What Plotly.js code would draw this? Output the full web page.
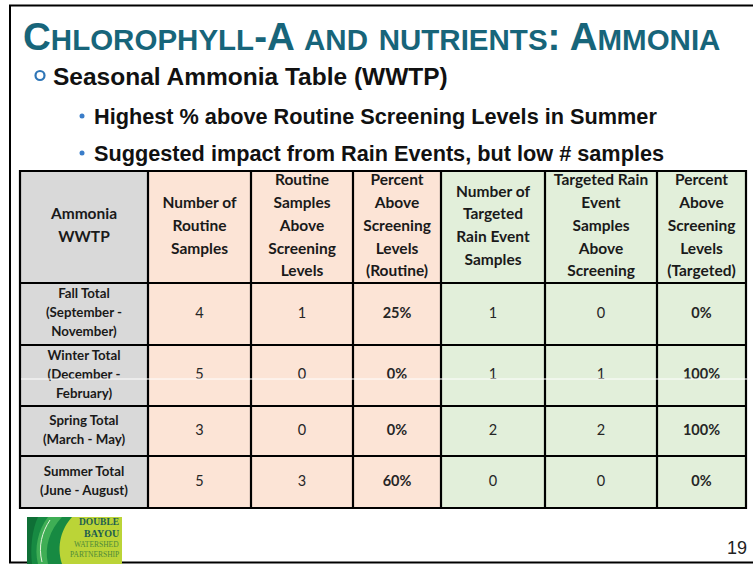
<!DOCTYPE html>
<html><head><meta charset="utf-8">
<script src="https://cdn.plot.ly/plotly-3.0.1.min.js"></script>
<style>html,body{margin:0;padding:0;background:#fff;}#chart{width:753px;height:565px;}</style>
</head><body><div id="chart"></div>
<script>
// ---------------- data ----------------
const headerLabels = ['Ammonia<br>WWTP', 'Number of<br>Routine<br>Samples', 'Routine<br>Samples<br>Above<br>Screening<br>Levels', 'Percent<br>Above<br>Screening<br>Levels<br>(Routine)', 'Number of<br>Targeted<br>Rain Event<br>Samples', 'Targeted Rain<br>Event<br>Samples<br>Above<br>Screening', 'Percent<br>Above<br>Screening<br>Levels<br>(Targeted)'];
const rowLabels = ['Fall Total<br>(September -<br>November)', 'Winter Total<br>(December -<br>February)', 'Spring Total<br>(March - May)', 'Summer Total<br>(June - August)'];
const routineSamples = [4, 5, 3, 5];
const routineAbove = [1, 0, 0, 3];
const routinePercent = [25, 0, 0, 60];
const targetedSamples = [1, 1, 2, 0];
const targetedAbove = [0, 1, 2, 0];
const targetedPercent = [0, 100, 100, 0];

const titleText = 'Chlorophyll-A and nutrients: Ammonia';
const subTitle = 'Seasonal Ammonia Table (WWTP)';
const bulletTexts = ['Highest % above Routine Screening Levels in Summer', 'Suggested impact from Rain Events, but low # samples'];
const pageNumber = '19';
const logoLines = ['DOUBLE', 'BAYOU', 'WATERSHED', 'PARTNERSHIP'];

// ---------------- layout geometry ----------------
const W = 753, H = 565;
const colEdges = [20, 148, 251, 353, 441, 545, 657, 746];
const rowEdges = [171, 283, 345, 406, 456, 508];
const colFills = ['#D9D9D9', '#FCE4D6', '#FCE4D6', '#FCE4D6', '#E2EFDA', '#E2EFDA', '#E2EFDA'];
const headerGap = 22.8, labelGap = 19;
const cellFont = 'Lato, Carlito, Calibri, sans-serif';
const slideFont = '"Liberation Sans", Arial, sans-serif';

const columns = [
  {vals: routineSamples, fmt: v => String(v), bold: false},
  {vals: routineAbove, fmt: v => String(v), bold: false},
  {vals: routinePercent, fmt: v => v + '%', bold: true},
  {vals: targetedSamples, fmt: v => String(v), bold: false},
  {vals: targetedAbove, fmt: v => String(v), bold: false},
  {vals: targetedPercent, fmt: v => v + '%', bold: true}
];

const cx = i => (colEdges[i] + colEdges[i + 1]) / 2;
const cy = r => (rowEdges[r] + rowEdges[r + 1]) / 2;

// ---------------- shapes ----------------
const shapes = [];
shapes.push({type: 'rect', xref: 'x', yref: 'y', x0: 10, x1: 780, y0: 5.5, y1: 562.5, line: {color: '#000', width: 2}, fillcolor: 'rgba(0,0,0,0)'});
for (let c = 0; c < colFills.length; c++) {
  for (let r = 0; r < rowEdges.length - 1; r++) {
    shapes.push({type: 'rect', xref: 'x', yref: 'y', x0: colEdges[c], x1: colEdges[c + 1], y0: rowEdges[r], y1: rowEdges[r + 1], fillcolor: colFills[c], line: {width: 0}, layer: 'below'});
  }
}
const tableTop = rowEdges[0], tableBot = rowEdges[rowEdges.length - 1];
colEdges.forEach(e => shapes.push({type: 'line', xref: 'x', yref: 'y', x0: e, x1: e, y0: tableTop - 1, y1: tableBot + 1, line: {color: '#000', width: 2.2}}));
rowEdges.forEach(e => shapes.push({type: 'line', xref: 'x', yref: 'y', x0: colEdges[0] - 1, x1: colEdges[colEdges.length - 1] + 1, y0: e, y1: e, line: {color: '#000', width: 2}}));
shapes.push({type: 'line', xref: 'x', yref: 'y', x0: colEdges[0] + 1, x1: colEdges[colEdges.length - 1] + 1, y0: 379, y1: 379, line: {color: '#fff', width: 1}});
shapes.push({type: 'circle', xref: 'x', yref: 'y', x0: 35.5, x1: 44.5, y0: 71, y1: 80, line: {color: '#2E75B6', width: 2.2}, fillcolor: 'rgba(0,0,0,0)'});
[116, 153].forEach(y => shapes.push({type: 'circle', xref: 'x', yref: 'y', x0: 79.5, x1: 84.5, y0: y - 2.5, y1: y + 2.5, line: {width: 0}, fillcolor: '#3A7DC9'}));
// logo
shapes.push({type: 'rect', xref: 'x', yref: 'y', x0: 27, x1: 122, y0: 517, y1: 564, fillcolor: '#BBD437', line: {width: 0}});
shapes.push({type: 'path', xref: 'x', yref: 'y', path: 'M27,517 L72,517 C62,528 56,545 62,564 L27,564 Z', fillcolor: '#178A42', line: {width: 0}});
shapes.push({type: 'path', xref: 'x', yref: 'y', path: 'M48,517 L62,517 C50,530 44,546 48,564 L38,564 C34,548 38,530 48,517 Z', fillcolor: '#3FAE55', line: {width: 0}});
shapes.push({type: 'path', xref: 'x', yref: 'y', path: 'M50,520 C42,532 38,546 42,562', line: {color: '#E6F3DC', width: 1}});
shapes.push({type: 'path', xref: 'x', yref: 'y', path: 'M27,517 L38,517 C32,530 30,548 32,564 L27,564 Z', fillcolor: '#0F6F36', line: {width: 0}});

// ---------------- text traces ----------------
function linesTrace(texts, xs, centers, gap, size, bold, color) {
  const x = [], y = [], t = [];
  texts.forEach((txt, i) => {
    const lines = txt.split('<br>');
    lines.forEach((ln, j) => {
      x.push(xs[i]);
      y.push(centers[i] + (j - (lines.length - 1) / 2) * gap);
      t.push(bold ? '<b>' + ln + '</b>' : ln);
    });
  });
  return {type: 'scatter', mode: 'text', x: x, y: y, text: t, textposition: 'middle center', cliponaxis: false, hoverinfo: 'skip', showlegend: false,
    textfont: {family: cellFont, size: size, color: color}};
}
const headerCenter = (rowEdges[0] + rowEdges[1]) / 2;
const traces = [];
traces.push(linesTrace(headerLabels, headerLabels.map((_, i) => cx(i)), headerLabels.map(() => headerCenter), headerGap, 15.5, true, '#1a1a1a'));
traces.push(linesTrace(rowLabels, rowLabels.map(() => cx(0)), rowLabels.map((_, r) => cy(r + 1)), labelGap, 13.3, true, '#1a1a1a'));
columns.forEach((col, k) => {
  traces.push({type: 'scatter', mode: 'text', x: col.vals.map(() => cx(k + 1)), y: col.vals.map((_, r) => cy(r + 1)),
    text: col.vals.map(v => col.bold ? '<b>' + col.fmt(v) + '</b>' : col.fmt(v)), textposition: 'middle center', cliponaxis: false, hoverinfo: 'skip', showlegend: false,
    textfont: {family: cellFont, size: 14.5, color: '#262626'}});
});

// ---------------- annotations ----------------
function smallCaps(s, small) {
  let out = '';
  for (const ch of s) {
    if (ch >= 'a' && ch <= 'z') out += '<span style="font-size:' + small + 'px">' + ch.toUpperCase() + '</span>';
    else out += ch;
  }
  return out;
}
const annotations = [];
annotations.push({xref: 'x', yref: 'y', x: 21, y: 36, xanchor: 'left', yanchor: 'middle', showarrow: false,
  text: '<b>' + smallCaps(titleText, 29.5) + '</b>', font: {family: slideFont, size: 38.5, color: '#17657A'}});
annotations.push({xref: 'x', yref: 'y', x: 51, y: 76, xanchor: 'left', yanchor: 'middle', showarrow: false,
  text: '<b>' + subTitle + '</b>', font: {family: slideFont, size: 24.5, color: '#111'}});
bulletTexts.forEach((b, i) => annotations.push({xref: 'x', yref: 'y', x: 92, y: [116, 153][i], xanchor: 'left', yanchor: 'middle', showarrow: false,
  text: '<b>' + b + '</b>', font: {family: slideFont, size: 21.7, color: '#111'}}));
annotations.push({xref: 'x', yref: 'y', x: 749, y: 548, xanchor: 'right', yanchor: 'middle', showarrow: false,
  text: pageNumber, font: {family: slideFont, size: 18, color: '#222'}});
const logoY = [522, 533.5, 544.5, 554.5], logoSize = [9.5, 10, 7.5, 7.5], logoColor = ['#1D5E50', '#1D5E50', '#4E8A3A', '#4E8A3A'];
logoLines.forEach((t, i) => annotations.push({xref: 'x', yref: 'y', x: 121, y: logoY[i], xanchor: 'right', yanchor: 'middle', showarrow: false,
  text: i < 2 ? '<b>' + t + '</b>' : t, font: {family: '"Liberation Serif", "DejaVu Serif", serif', size: logoSize[i], color: logoColor[i]}}));

const layout = {
  width: W, height: H, margin: {l: 0, r: 0, t: 0, b: 0},
  paper_bgcolor: '#fff', plot_bgcolor: '#fff',
  xaxis: {range: [0, W], visible: false, fixedrange: true},
  yaxis: {range: [H, 0], visible: false, fixedrange: true},
  shapes: shapes, annotations: annotations, showlegend: false
};
Plotly.newPlot('chart', traces, layout, {staticPlot: true, displayModeBar: false});
</script></body></html>
